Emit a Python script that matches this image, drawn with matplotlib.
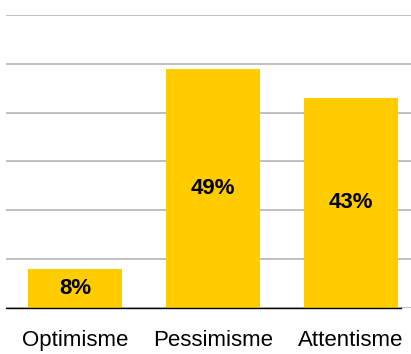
import matplotlib.pyplot as plt

categories = ["Optimisme", "Pessimisme", "Attentisme"]
values = [8, 49, 43]
labels = ["8%", "49%", "43%"]

plt.rcParams["font.family"] = ["Liberation Sans", "DejaVu Sans"]

fig = plt.figure(figsize=(4.11, 3.54), dpi=100)
ax = fig.add_axes([0.0146, 0.130, 0.9854, 0.8276])

x = range(len(categories))
bars = ax.bar(x, values, width=0.675, color="#FFCC00", zorder=2)

for bar, lab in zip(bars, labels):
    ax.text(bar.get_x() + bar.get_width() / 2, bar.get_height() / 2, lab,
            ha="center", va="center", fontsize=16, fontweight="bold", color="black", zorder=3)

ax.set_xlim(-0.5, 2.435)
ax.set_ylim(0, 60)
ax.set_yticks(range(0, 61, 10))
ax.yaxis.grid(True, color="#b4b4b4", linewidth=1.2, zorder=1)
ax.tick_params(axis="y", left=False, labelleft=False)

ax.set_xticks(list(x))
ax.set_xticklabels(categories, fontsize=16)
ax.tick_params(axis="x", length=0, pad=16)

for side in ["top", "right", "left"]:
    ax.spines[side].set_visible(False)
ax.spines["bottom"].set_color("black")
ax.spines["bottom"].set_linewidth(1.0)
ax.spines["bottom"].set_zorder(4)
ax.spines["bottom"].set_bounds(-0.5, 2.36)

fig.savefig("out.png", dpi=100)
